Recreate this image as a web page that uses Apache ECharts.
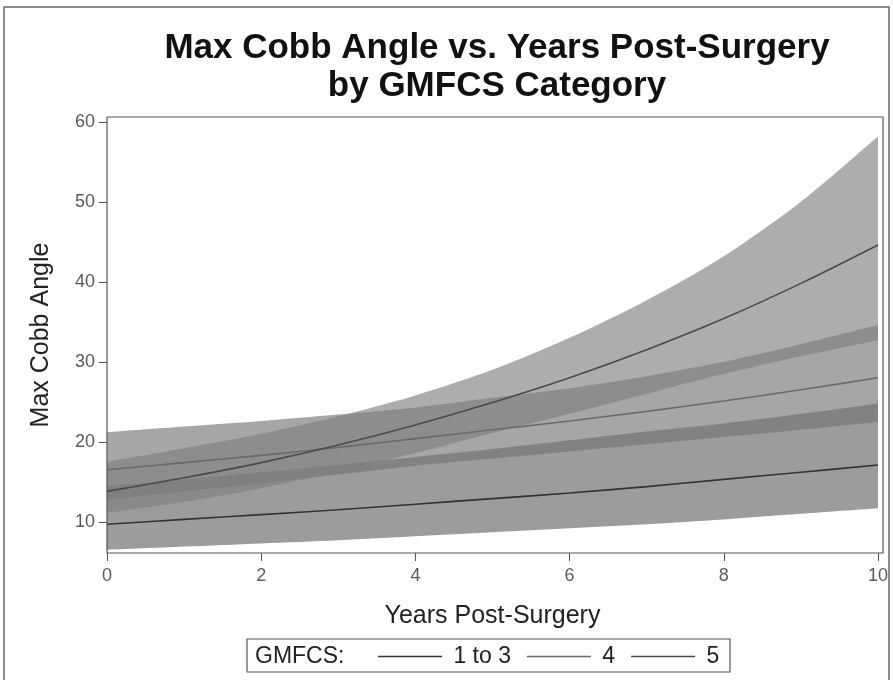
<!DOCTYPE html>
<html>
<head>
<meta charset="utf-8">
<script src="https://cdn.jsdelivr.net/npm/echarts@6/dist/echarts.min.js"></script>
<style>html,body{margin:0;padding:0;background:#fff;}#c{width:893px;height:680px;}</style>
</head>
<body>
<div id="c"></div>
<script>
const years = ['0','1','2','3','4','5','6','7','8','9','10'];
const g13Fit   = [9.7,10.3,10.9,11.5,12.2,12.9,13.6,14.4,15.3,16.2,17.1];
const g13Lower = [6.5,6.9,7.3,7.7,8.2,8.7,9.2,9.7,10.3,11.0,11.7];
const g13Upper = [14.5,15.3,16.2,17.1,18.1,19.1,20.2,21.3,22.3,23.5,24.8];
const g4Fit    = [16.5,17.4,18.3,19.3,20.4,21.5,22.6,23.8,25.1,26.5,28.0];
const g4Lower  = [12.8,13.8,14.8,15.9,17.0,17.9,18.8,19.7,20.6,21.5,22.5];
const g4Upper  = [21.2,21.9,22.6,23.4,24.3,25.5,26.7,28.2,30.0,32.2,34.6];
const g5Fit    = [13.8,15.5,17.4,19.6,22.1,24.9,28.0,31.5,35.4,39.8,44.6];
const g5Lower  = [11.1,12.5,14.2,16.3,18.6,21.1,23.5,26.0,28.5,30.7,32.7];
const g5Upper  = [17.5,19.2,21.0,23.2,25.8,29.0,33.0,37.7,43.2,50.0,58.2];
const groupNames = ['1 to 3','4','5'];
const yTicks = [10,20,30,40,50,60];

const FONT = '"Liberation Sans", Arial, sans-serif';
const bandFills = ['rgba(100,100,100,0.64)','rgba(116,116,116,0.64)','rgba(126,126,126,0.64)'];
const lineColors = ['#333333','#6a6a6a','#4a4a4a'];

function band(id, lower, upper, fill){
  return [
    {type:'line', name:id+'_lo', stack:id, data:lower.slice(), smooth:0.3, symbol:'none',
     lineStyle:{width:0,opacity:0}, silent:true, z:1},
    {type:'line', name:id+'_band', stack:id, data:upper.map((u,i)=>+(u-lower[i]).toFixed(3)), smooth:0.3, symbol:'none',
     lineStyle:{width:0,opacity:0}, areaStyle:{color:fill, opacity:1}, silent:true, z:1}
  ];
}
function fit(name, ys, color){
  return {type:'line', name:name, data:ys.slice(), smooth:0.3, symbol:'none',
    lineStyle:{color:color,width:1.6}, itemStyle:{color:color}, z:3};
}

const chart = echarts.init(document.getElementById('c'));
chart.setOption({
  animation:false,
  backgroundColor:'#fff',
  grid:{left:107, top:117, right:15, bottom:127, show:false},
  xAxis:{type:'category', data:years, boundaryGap:false,
    name:'Years Post-Surgery', nameLocation:'middle', nameGap:51,
    nameTextStyle:{fontFamily:FONT, fontSize:25, color:'#222'},
    axisLine:{show:false},
    axisTick:{show:true, length:8, interval:1, lineStyle:{color:'#555'}},
    axisLabel:{fontFamily:FONT, fontSize:18, color:'#5a5a5a', margin:14, interval:1},
    splitLine:{show:false}},
  yAxis:{type:'value', min:6.1, max:60.6,
    name:'Max Cobb Angle', nameLocation:'middle', nameGap:53, nameRotate:90,
    nameTextStyle:{fontFamily:FONT, fontSize:25, color:'#222'},
    axisLine:{show:false},
    axisTick:{show:true, length:8, lineStyle:{color:'#555'}, customValues:yTicks},
    axisLabel:{fontFamily:FONT, fontSize:18, color:'#5a5a5a', margin:12, customValues:yTicks},
    splitLine:{show:false}},
  legend:{data:groupNames, left:378, top:645, orient:'horizontal',
    icon:'rect', itemWidth:64, itemHeight:1.6, itemGap:16,
    padding:0,
    formatter:(n)=>' '+n,
    textStyle:{fontFamily:FONT, fontSize:23, color:'#222'}},
  graphic:[
    {type:'rect', shape:{x:4, y:7, width:885, height:690}, style:{fill:'none', stroke:'#666', lineWidth:1.5}, silent:true, z:0},
    {type:'rect', shape:{x:107, y:117, width:776, height:436}, style:{fill:'none', stroke:'#555', lineWidth:1.2}, silent:true, z:10},
    {type:'rect', shape:{x:247, y:639, width:483, height:33}, style:{fill:'none', stroke:'#555', lineWidth:1.2}, silent:true},
    {type:'text', x:255, y:657, style:{text:'GMFCS:', fontFamily:FONT, fontSize:23, fill:'#222', textVerticalAlign:'middle'}},
    {type:'text', x:497, y:29, style:{text:'Max Cobb Angle vs. Years Post-Surgery\nby GMFCS Category', fontFamily:FONT, fontSize:35, fontWeight:'bold', fill:'#111', textAlign:'center', lineHeight:38}}
  ],
  series:[
    ...band('g13', g13Lower, g13Upper, bandFills[0]),
    ...band('g4', g4Lower, g4Upper, bandFills[1]),
    ...band('g5', g5Lower, g5Upper, bandFills[2]),
    fit(groupNames[0], g13Fit, lineColors[0]),
    fit(groupNames[1], g4Fit, lineColors[1]),
    fit(groupNames[2], g5Fit, lineColors[2])
  ]
});
</script>
</body>
</html>
